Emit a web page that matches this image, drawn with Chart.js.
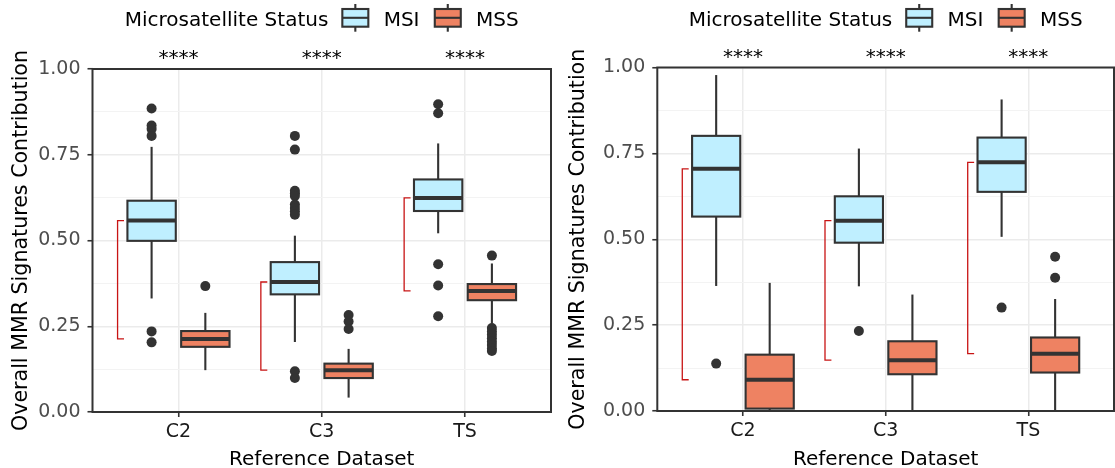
<!DOCTYPE html>
<html>
<head>
<meta charset="utf-8">
<script src="https://cdn.jsdelivr.net/npm/chart.js@4.4.1/dist/chart.umd.min.js"></script>
<style>
    html, body { margin: 0; padding: 0; background: #fff; }
    .wrap { position: relative; width: 1115px; height: 468px; }
    #left-panel { position: absolute; left: 0; top: 0; }
    #right-panel { position: absolute; left: 557px; top: 0; }
</style>
</head>
<body>
<div class="wrap">
    <canvas id="left-panel" width="557" height="468"></canvas>
    <canvas id="right-panel" width="558" height="468"></canvas>
</div>
<script>
// categories / ticks
const categories = ['C2', 'C3', 'TS'];
const groupLabels = ['MSI', 'MSS'];
const yTicks = [0, 0.25, 0.5, 0.75, 1];
const yTickLabels = ['0.00', '0.25', '0.50', '0.75', '1.00'];
const yMinorTicks = [0.125, 0.375, 0.625, 0.875];
const sigLabels = ['****', '****', '****'];

// left panel - MSI
const leftMsiLow = [0.331, 0.204, 0.521];
const leftMsiQ1 = [0.499, 0.343, 0.586];
const leftMsiMedian = [0.558, 0.379, 0.624];
const leftMsiQ3 = [0.616, 0.437, 0.678];
const leftMsiHigh = [0.773, 0.514, 0.783];
const leftMsiOutliers = [
    [0.885, 0.835, 0.825, 0.805, 0.235, 0.203],
    [0.805, 0.765, 0.645, 0.638, 0.630, 0.605, 0.595, 0.585, 0.575, 0.119, 0.099],
    [0.897, 0.871, 0.431, 0.369, 0.279]
];
// left panel - MSS
const leftMssLow = [0.122, 0.042, 0.258];
const leftMssQ1 = [0.190, 0.099, 0.326];
const leftMssMedian = [0.213, 0.122, 0.353];
const leftMssQ3 = [0.236, 0.141, 0.373];
const leftMssHigh = [0.289, 0.184, 0.433];
const leftMssOutliers = [
    [0.367],
    [0.283, 0.264, 0.242],
    [0.456, 0.245, 0.235, 0.225, 0.215, 0.205, 0.195, 0.185, 0.178]
];

// right panel - MSI
const rightMsiLow = [0.364, 0.363, 0.507];
const rightMsiQ1 = [0.566, 0.490, 0.638];
const rightMsiMedian = [0.705, 0.554, 0.724];
const rightMsiQ3 = [0.801, 0.625, 0.796];
const rightMsiHigh = [0.978, 0.764, 0.907];
const rightMsiOutliers = [[0.138], [0.233], [0.301]];
// right panel - MSS
const rightMssLow = [0.0, 0.0, 0.0];
const rightMssQ1 = [0.007, 0.107, 0.112];
const rightMssMedian = [0.091, 0.148, 0.167];
const rightMssQ3 = [0.164, 0.203, 0.214];
const rightMssHigh = [0.373, 0.339, 0.326];
const rightMssOutliers = [[], [], [0.449, 0.388]];

const MSI_FILL = '#BFEFFF';
const MSS_FILL = '#EE8262';
const INK = '#333333';
const DODGE = 0.1875;
const HALF_BOX = 0.16875;
const BRACKET_X = -0.425;
const BRACKET_TICK = 0.045;

Chart.defaults.font.family = '"DejaVu Sans", sans-serif';

function line(ctx, x1, y1, x2, y2) {
    ctx.beginPath();
    ctx.moveTo(x1, y1);
    ctx.lineTo(x2, y2);
    ctx.stroke();
}

const boxPlugin = {
    id: 'boxes',
    beforeDatasetsDraw(chart, args, opts) {
        const { ctx, scales: { x, y } } = chart;
        ctx.save();
        opts.series.forEach((s, si) => {
            const shift = (si === 0 ? -1 : 1) * DODGE;
            s.median.forEach((med, i) => {
                const c = i + 1 + shift;
                const cx = x.getPixelForValue(c);
                const l = x.getPixelForValue(c - HALF_BOX);
                const r = x.getPixelForValue(c + HALF_BOX);
                const y1 = y.getPixelForValue(s.q1[i]);
                const y3 = y.getPixelForValue(s.q3[i]);
                ctx.strokeStyle = INK;
                ctx.lineWidth = 2.1;
                line(ctx, cx, y3, cx, y.getPixelForValue(s.high[i]));
                line(ctx, cx, y1, cx, y.getPixelForValue(s.low[i]));
                ctx.fillStyle = s.color;
                ctx.fillRect(l, y3, r - l, y1 - y3);
                ctx.strokeRect(l, y3, r - l, y1 - y3);
                ctx.lineWidth = 4;
                const ym = y.getPixelForValue(med);
                line(ctx, l, ym, r, ym);
            });
        });
        ctx.restore();
    }
};

const decorPlugin = {
    id: 'decor',
    afterDatasetsDraw(chart, args, opts) {
        const { ctx, chartArea: a, scales: { x, y } } = chart;
        ctx.save();
        // brackets between group medians
        ctx.strokeStyle = '#C81414';
        ctx.lineWidth = 1.3;
        opts.top.forEach((t, i) => {
            const bx = x.getPixelForValue(i + 1 + BRACKET_X);
            const tx = x.getPixelForValue(i + 1 + BRACKET_X + BRACKET_TICK);
            const yt = y.getPixelForValue(t);
            const yb = y.getPixelForValue(opts.bottom[i]);
            ctx.beginPath();
            ctx.moveTo(tx, yt);
            ctx.lineTo(bx, yt);
            ctx.lineTo(bx, yb);
            ctx.lineTo(tx, yb);
            ctx.stroke();
        });
        // panel border
        ctx.strokeStyle = INK;
        ctx.lineWidth = 2;
        ctx.strokeRect(a.left, a.top, a.right - a.left, a.bottom - a.top);
        // significance stars
        ctx.fillStyle = '#000';
        ctx.font = '20px "DejaVu Sans"';
        ctx.textAlign = 'center';
        ctx.textBaseline = 'alphabetic';
        sigLabels.forEach((s, i) => ctx.fillText(s, x.getPixelForValue(i + 1), a.top - 5));
        ctx.restore();
    }
};

const legendPlugin = {
    id: 'msLegend',
    afterDraw(chart, args, opts) {
        const { ctx, chartArea: a } = chart;
        const glyphW = 26, gapTitle = 14, gap = 15.3;
        ctx.save();
        ctx.font = '20px "DejaVu Sans"';
        let total = ctx.measureText(opts.title).width + gapTitle;
        opts.items.forEach((it, k) => {
            total += glyphW + gap + ctx.measureText(it.label).width;
            if (k < opts.items.length - 1) total += gap;
        });
        let px = (a.left + a.right) / 2 - total / 2;
        ctx.fillStyle = '#000';
        ctx.textBaseline = 'alphabetic';
        ctx.fillText(opts.title, px, 25.7);
        px += ctx.measureText(opts.title).width + gapTitle;
        opts.items.forEach(it => {
            ctx.strokeStyle = INK;
            ctx.lineWidth = 2.1;
            line(ctx, px + glyphW / 2, 4, px + glyphW / 2, 31.7);
            ctx.fillStyle = it.color;
            ctx.fillRect(px, 9, glyphW, 17.7);
            ctx.strokeRect(px, 9, glyphW, 17.7);
            line(ctx, px, 17.8, px + glyphW, 17.8);
            px += glyphW + gap;
            ctx.fillStyle = '#000';
            ctx.fillText(it.label, px, 25.7);
            px += ctx.measureText(it.label).width + gap;
        });
        ctx.restore();
    }
};

function outlierPoints(list, shift) {
    const pts = [];
    list.forEach((vals, i) => vals.forEach(v => pts.push({ x: i + 1 + shift, y: v })));
    return pts;
}

function makePanel(canvasId, msi, mss, frame) {
    const series = [
        Object.assign({ color: MSI_FILL }, msi),
        Object.assign({ color: MSS_FILL }, mss)
    ];
    const isMajor = v => yTicks.some(t => Math.abs(t - v) < 1e-9);
    return new Chart(document.getElementById(canvasId), {
        type: 'scatter',
        data: {
            datasets: series.map((s, si) => ({
                label: groupLabels[si],
                data: outlierPoints(s.outliers, (si === 0 ? -1 : 1) * DODGE),
                pointRadius: 5,
                pointBorderWidth: 0,
                pointBackgroundColor: INK,
                pointHoverRadius: 5
            }))
        },
        options: {
            responsive: false,
            animation: false,
            devicePixelRatio: 1,
            events: [],
            layout: {
                autoPadding: false,
                padding: { top: frame.top, left: 0, right: frame.right, bottom: 0 }
            },
            plugins: {
                legend: { display: false },
                tooltip: { enabled: false },
                boxes: { series },
                decor: { top: msi.median, bottom: mss.median },
                msLegend: {
                    title: 'Microsatellite Status',
                    items: series.map((s, si) => ({ label: groupLabels[si], color: s.color }))
                }
            },
            scales: {
                x: {
                    type: 'linear',
                    min: 0.4,
                    max: 3.6,
                    afterBuildTicks: axis => { axis.ticks = categories.map((c, i) => ({ value: i + 1 })); },
                    afterFit: axis => {
                        axis.height = frame.xAxisHeight;
                        axis.paddingLeft = 0;
                        axis.paddingRight = 0;
                    },
                    ticks: {
                        callback: v => categories[v - 1],
                        color: '#1a1a1a',
                        font: { size: 19 },
                        padding: 4,
                        maxRotation: 0
                    },
                    grid: { color: '#EBEBEB', lineWidth: 1.5, tickColor: INK, tickLength: 5, tickWidth: 1.6 },
                    border: { display: false },
                    title: {
                        display: true,
                        text: 'Reference Dataset',
                        color: '#000',
                        font: { size: 20, lineHeight: 0.85 },
                        padding: { top: 0, bottom: 0 }
                    }
                },
                y: {
                    min: 0,
                    max: 1,
                    afterBuildTicks: axis => {
                        axis.ticks = yTicks.concat(yMinorTicks).sort((p, q) => p - q).map(v => ({ value: v }));
                    },
                    afterFit: axis => {
                        axis.width = frame.left;
                        axis.paddingTop = 0;
                        axis.paddingBottom = 0;
                    },
                    ticks: {
                        callback: v => {
                            const k = yTicks.findIndex(t => Math.abs(t - v) < 1e-9);
                            return k >= 0 ? yTickLabels[k] : '';
                        },
                        color: '#4D4D4D',
                        font: { size: 19 },
                        padding: 7
                    },
                    grid: {
                        color: c => (c.tick && !isMajor(c.tick.value)) ? '#F3F3F3' : '#EBEBEB',
                        lineWidth: c => (c.tick && !isMajor(c.tick.value)) ? 1 : 1.5,
                        tickColor: c => (c.tick && !isMajor(c.tick.value)) ? 'rgba(0,0,0,0)' : INK,
                        tickLength: 5,
                        tickWidth: 1.6
                    },
                    border: { display: false },
                    title: {
                        display: true,
                        text: 'Overall MMR Signatures Contribution',
                        color: '#000',
                        font: { size: 20.6 },
                        padding: { top: 9, bottom: 0 }
                    }
                }
            }
        },
        plugins: [boxPlugin, decorPlugin, legendPlugin]
    });
}

makePanel('left-panel',
    { low: leftMsiLow, q1: leftMsiQ1, median: leftMsiMedian, q3: leftMsiQ3, high: leftMsiHigh, outliers: leftMsiOutliers },
    { low: leftMssLow, q1: leftMssQ1, median: leftMssMedian, q3: leftMssQ3, high: leftMssHigh, outliers: leftMssOutliers },
    { top: 69, left: 92.5, right: 6, xAxisHeight: 56 });

makePanel('right-panel',
    { low: rightMsiLow, q1: rightMsiQ1, median: rightMsiMedian, q3: rightMsiQ3, high: rightMsiHigh, outliers: rightMsiOutliers },
    { low: rightMssLow, q1: rightMssQ1, median: rightMssMedian, q3: rightMssQ3, high: rightMssHigh, outliers: rightMssOutliers },
    { top: 67.5, left: 100.3, right: 1, xAxisHeight: 57 });
</script>
</body>
</html>
